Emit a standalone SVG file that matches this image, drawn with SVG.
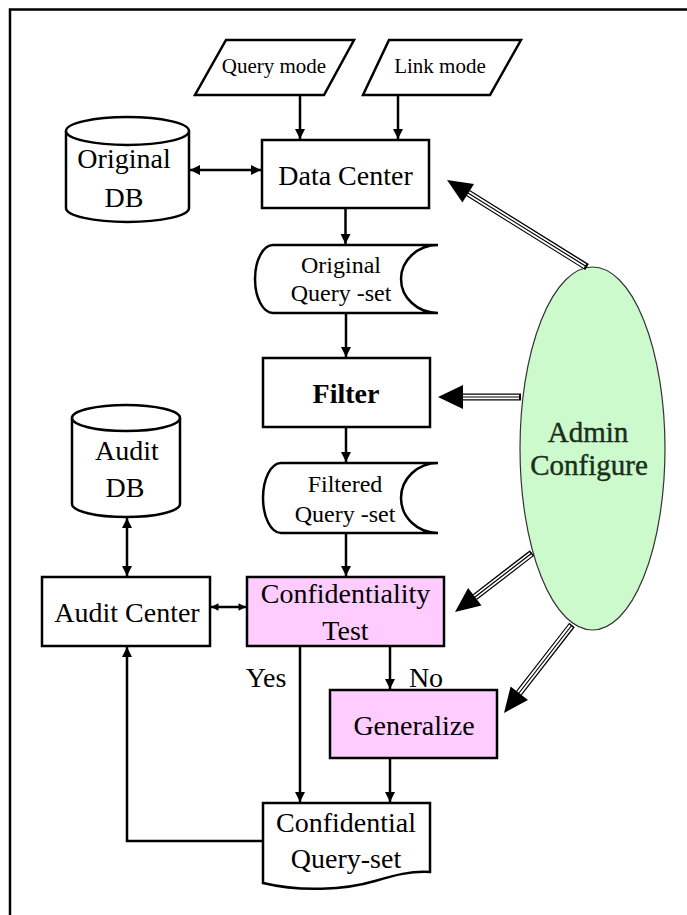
<svg xmlns="http://www.w3.org/2000/svg" width="687" height="915" viewBox="0 0 687 915">
<style>
.s{fill:#fff;stroke:#000;stroke-width:2.5}
.p{fill:#FFCCFF;stroke:#000;stroke-width:2.5}
.t{font-family:"Liberation Serif","Times New Roman",serif;font-size:28px;fill:#000;text-anchor:middle}
.sm{font-size:21px}
.m{font-size:24px}
.g{fill:#1a2e1a;font-size:29px;stroke:#1a2e1a;stroke-width:0.4}
.c{stroke:#000;stroke-width:2.5;fill:none}
.tl1{stroke:#000;stroke-width:7;fill:none}
.tl2{stroke:#fff;stroke-width:4.6;fill:none}
.tl3{stroke:#000;stroke-width:1.2;fill:none}
</style>
<defs>
<marker id="ah" viewBox="0 0 10 10" refX="10" refY="5" markerWidth="4.4" markerHeight="4" markerUnits="strokeWidth" orient="auto-start-reverse">
<path d="M0,0 L10,5 L0,10 Z" fill="#000"/>
</marker>
<marker id="ahs" viewBox="0 0 10 10" refX="10" refY="5" markerWidth="3.4" markerHeight="3" markerUnits="strokeWidth" orient="auto-start-reverse">
<path d="M0,0 L10,5 L0,10 Z" fill="#000"/>
</marker>
</defs>
<rect width="687" height="915" fill="#fff"/>
<path d="M10,920 V9.5 H700" fill="none" stroke="#000" stroke-width="2.5"/>

<g id="query-mode">
<polygon class="s" points="226,40 354,40 324,95 195,95"/>
<text class="t sm" x="274" y="73">Query mode</text>
</g>
<g id="link-mode">
<polygon class="s" points="389,40 521,40 490,95 363,95"/>
<text class="t sm" x="440" y="73">Link mode</text>
</g>
<g id="original-db">
<path class="s" d="M66,131 V208 A61.5,14 0 0 0 189,208 V131"/>
<ellipse class="s" cx="127.5" cy="131" rx="61.5" ry="14"/>
<text class="t" x="124" y="168">Original</text>
<text class="t" x="124" y="207">DB</text>
</g>
<g id="data-center">
<rect class="s" x="262" y="140" width="167" height="68"/>
<text class="t" x="345.5" y="185">Data Center</text>
</g>
<g id="original-query-set">
<path class="s" d="M273,245 H438 A37,34 0 0 0 438,313 H273 A18,34 0 0 1 273,245 Z"/>
<text class="t m" x="341" y="273">Original</text>
<text class="t m" x="341" y="301">Query -set</text>
</g>
<g id="filter">
<rect class="s" x="263" y="358" width="167" height="69"/>
<text class="t" x="346" y="403" font-weight="bold">Filter</text>
</g>
<g id="audit-db">
<path class="s" d="M72,418 V504 A54,13 0 0 0 180,504 V418"/>
<ellipse class="s" cx="126" cy="418" rx="54" ry="13"/>
<text class="t" x="127" y="460">Audit</text>
<text class="t" x="125" y="497">DB</text>
</g>
<g id="filtered-query-set">
<path class="s" d="M281,463 H438 A37,35 0 0 0 438,533 H281 A18,35 0 0 1 281,463 Z"/>
<text class="t m" x="345" y="492">Filtered</text>
<text class="t m" x="345" y="522">Query -set</text>
</g>
<g id="audit-center">
<rect class="s" x="42" y="577" width="168" height="69"/>
<text class="t" x="127" y="622">Audit Center</text>
</g>
<g id="confidentiality-test">
<rect class="p" x="247" y="577" width="197" height="69"/>
<text class="t" x="345.5" y="603">Confidentiality</text>
<text class="t" x="345.5" y="640">Test</text>
</g>
<g id="generalize">
<rect class="p" x="330" y="690" width="167" height="68"/>
<text class="t" x="414" y="735">Generalize</text>
</g>
<g id="confidential-query-set">
<path class="s" d="M263,803 H430 V872 C410,871 395,875 375,881 C345,890 300,892 263,883 Z"/>
<text class="t" x="346" y="832">Confidential</text>
<text class="t" x="346" y="868">Query-set</text>
</g>
<g id="admin-configure">
<ellipse cx="592.5" cy="448.5" rx="72.5" ry="181.5" fill="#CCFACC" stroke="#333" stroke-width="1.2"/>
<text class="t g" x="588" y="442">Admin</text>
<text class="t g" x="589" y="475">Configure</text>
</g>

<g id="connectors">
<line class="c" x1="300" y1="95" x2="300" y2="139" marker-end="url(#ah)"/>
<line class="c" x1="398" y1="95" x2="398" y2="139" marker-end="url(#ah)"/>
<line class="c" x1="190" y1="170" x2="261" y2="170" marker-start="url(#ah)" marker-end="url(#ah)"/>
<line class="c" x1="345.5" y1="208" x2="345.5" y2="244" marker-end="url(#ah)"/>
<line class="c" x1="346" y1="313" x2="346" y2="357" marker-end="url(#ah)"/>
<line class="c" x1="346" y1="427" x2="346" y2="462" marker-end="url(#ah)"/>
<line class="c" x1="346" y1="533" x2="346" y2="576" marker-end="url(#ah)"/>
<line class="c" x1="127" y1="518" x2="127" y2="576" marker-start="url(#ah)" marker-end="url(#ah)"/>
<line class="c" x1="211" y1="607" x2="246" y2="607" stroke-width="2" marker-start="url(#ahs)" marker-end="url(#ahs)"/>
<line class="c" x1="300" y1="646" x2="300" y2="802" marker-end="url(#ah)"/>
<line class="c" x1="390" y1="646" x2="390" y2="689" marker-end="url(#ah)"/>
<line class="c" x1="390" y1="758" x2="390" y2="802" marker-end="url(#ah)"/>
<polyline class="c" points="263,841 127,841 127,647" marker-end="url(#ah)"/>
<text class="t" x="266" y="687">Yes</text>
<text class="t" x="426" y="687">No</text>

<g id="admin-arrows">
<path class="tl1" d="M587,267 L468,193 M521,397 L462,397 M532,553 L475,597 M572,625 L519,693"/>
<path class="tl2" d="M585,266 L468,193 M519,397 L462,397 M531,554 L475,597 M571,626 L519,693"/>
<path class="tl3" d="M587,267 L468,193 M521,397 L462,397 M532,553 L475,597 M572,625 L519,693"/>
<polygon points="447,180 474,184 462.4,202.5" fill="#000"/>
<polygon points="438,397 463,385 463,409" fill="#000"/>
<polygon points="455,612 468.1,588.1 481.5,605.5" fill="#000"/>
<polygon points="504,713 510.6,686.5 528,699.9" fill="#000"/>
</g>
</g>
</svg>
